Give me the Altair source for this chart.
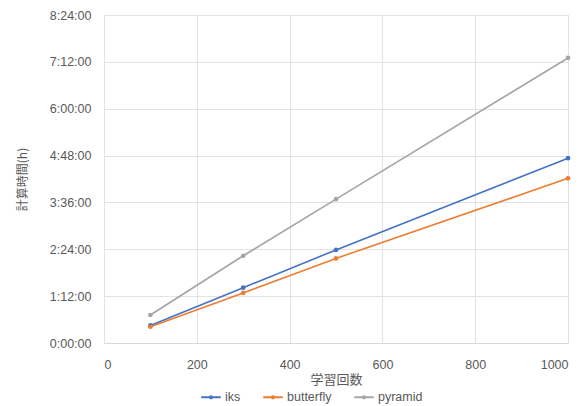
import altair as alt
import pandas as pd

x_vals = [100, 300, 500, 1000]
iks = [27, 85, 143, 284]          # minutes
butterfly = [25, 77, 130, 253]
pyramid = [43, 134, 221, 438]
series = ["iks", "butterfly", "pyramid"]
colors = ["#4472C4", "#ED7D31", "#A5A5A5"]
y_ticks = [0, 72, 144, 216, 288, 360, 432, 504]
x_ticks = [0, 200, 400, 600, 800, 1000]

rows = []
for name, vals in zip(series, [iks, butterfly, pyramid]):
    for x, v in zip(x_vals, vals):
        rows.append({"n": x, "minutes": v, "series": name})
df = pd.DataFrame(rows)

label_font = "Liberation Sans"
cjk = "Noto Sans CJK JP"
txt = "#595959"

chart = alt.Chart(df).mark_line(
    point=alt.OverlayMarkDef(filled=True, size=22), strokeWidth=1.6
).encode(
    x=alt.X("n:Q", title="学習回数",
            scale=alt.Scale(domain=[0, 1000], nice=False),
            axis=alt.Axis(values=x_ticks, grid=True, gridColor="#e3e3e3", format="d",
                          domainColor="#d9d9d9", ticks=False, labelPadding=15,
                          labelColor=txt, labelFontSize=12.5, labelFont=label_font,
                          titleFont=cjk, titleFontSize=13, titleFontWeight="normal",
                          titleColor=txt, titlePadding=3)),
    y=alt.Y("minutes:Q", title="計算時間(h)",
            scale=alt.Scale(domain=[0, 504], nice=False),
            axis=alt.Axis(values=y_ticks, grid=True, gridColor="#e3e3e3",
                          domain=False, ticks=False, labelPadding=13,
                          labelExpr="floor(datum.value/60) + ':' + (datum.value%60<10 ? '0' : '') + (datum.value%60) + ':00'",
                          labelColor=txt, labelFontSize=12.5, labelFont=label_font,
                          titleFont=cjk, titleFontSize=12, titleFontWeight="normal",
                          titleColor=txt, titlePadding=20)),
    color=alt.Color("series:N", sort=series,
                    scale=alt.Scale(domain=series, range=colors),
                    legend=alt.Legend(title=None, orient="none", direction="horizontal",
                                      legendX=96, legendY=371,
                                      symbolType="M-1,0H1M0,-0.12A0.12,0.12,0,1,1,0,0.12A0.12,0.12,0,1,1,0,-0.12",
                                      symbolSize=380, symbolStrokeWidth=1.8,
                                      labelFont=label_font, labelFontSize=12.5, labelOffset=3,
                                      labelColor=txt, columnPadding=18)),
).properties(
    width=464, height=328,
    padding={"left": 104, "top": 15, "right": 20, "bottom": 63},
    autosize=alt.AutoSizeParams(type="none"),
).configure_view(stroke=None).configure(background="white")

chart.save("out.html", embed_options={"renderer": "svg", "actions": False})
